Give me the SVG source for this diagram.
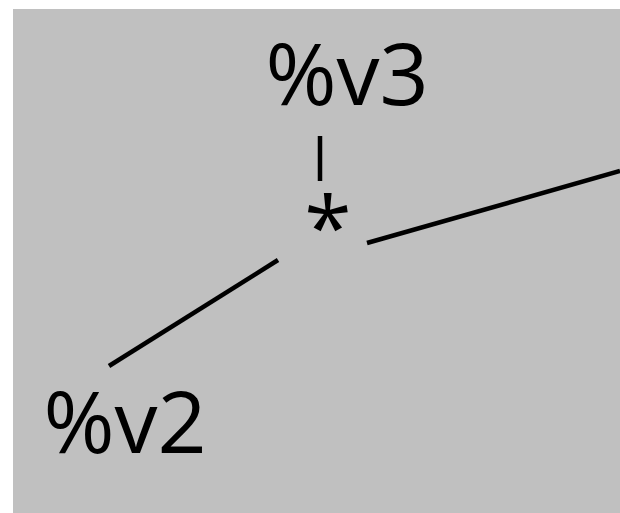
<svg xmlns="http://www.w3.org/2000/svg" width="620" height="513" viewBox="0 0 620 513">
<style>
.lbl{font-family:"Open Sans","Noto Sans","DejaVu Sans",sans-serif;font-size:86px;fill:#000;text-anchor:middle}
.edge{stroke:#000;stroke-width:4.5;fill:none}
</style>
<rect x="13" y="9" width="607" height="504" fill="#c0c0c0"/>
<g id="connectors">
<line class="edge" x1="320" y1="136" x2="320" y2="181"/>
<line class="edge" x1="109" y1="366" x2="278" y2="260"/>
<line class="edge" x1="367" y1="243" x2="620" y2="171"/>
</g>
<g id="node-v3"><text class="lbl" x="347" y="105">%v3</text></g>
<g id="node-mul"><text class="lbl" x="328" y="259">*</text></g>
<g id="node-v2"><text class="lbl" x="125" y="453">%v2</text></g>
</svg>
